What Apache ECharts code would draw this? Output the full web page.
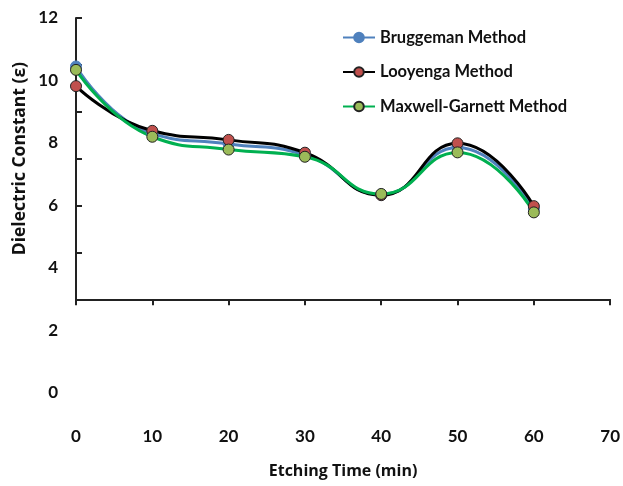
<!DOCTYPE html>
<html><head><meta charset="utf-8">
<script src="https://cdn.jsdelivr.net/npm/echarts@6/dist/echarts.min.js"></script>
<style>html,body{margin:0;padding:0;background:#fff}#c{width:623px;height:486px}</style>
</head><body><div id="c"></div>
<script>
var times = [0, 10, 20, 30, 40, 50, 60];
var bruggeman = [10.45, 8.30, 7.97, 7.62, 6.35, 7.86, 5.89];
var looyenga = [9.82, 8.39, 8.10, 7.69, 6.33, 7.99, 5.98];
var maxwell = [10.34, 8.20, 7.79, 7.56, 6.37, 7.70, 5.78];
var seriesNames = ['Bruggeman Method', 'Looyenga Method', 'Maxwell-Garnett Method'];
var xTicks = {min: 0, max: 70, interval: 10};
var yLabelTicks = {min: 0, max: 12, interval: 2};

var FONT = 'Lato';
function pairs(vals){ return times.map(function(t,i){ return [t, vals[i]]; }); }
var chart = echarts.init(document.getElementById('c'));
var lblStyle = {fontFamily: FONT, fontWeight: 'bold', fontSize: 17, color: '#111'};
chart.setOption({
  animation: false,
  legend: {
    orient: 'vertical', left: 337, top: 24, itemWidth: 32, itemHeight: 12, itemGap: 17.5,
    textStyle: {fontFamily: FONT, fontWeight: 'bold', fontSize: 16.5, color: '#111'},
    data: seriesNames
  },
  grid: [
    {left: 76, top: 18, width: 535, height: 281.25},
    {left: 76, top: 18, width: 535, height: 375}
  ],
  xAxis: [
    {gridIndex: 0, type: 'value', min: xTicks.min, max: xTicks.max, interval: xTicks.interval,
     axisLine: {show: true, lineStyle: {color: '#222', width: 2}},
     axisTick: {show: true, inside: false, length: 6, lineStyle: {color: '#222', width: 2}},
     axisLabel: Object.assign({margin: 129}, lblStyle),
     splitLine: {show: false},
     name: 'Etching Time (min)', nameLocation: 'middle', nameGap: 164,
     nameTextStyle: {fontFamily: 'Open Sans', fontWeight: 'bold', fontSize: 16, color: '#111'}},
    {gridIndex: 1, type: 'value', min: 0, max: 70, show: false}
  ],
  yAxis: [
    {gridIndex: 0, type: 'value', min: 3, max: 12, interval: 1.5,
     axisLine: {show: true, lineStyle: {color: '#222', width: 2}},
     axisTick: {show: true, inside: true, length: 6, lineStyle: {color: '#222', width: 2}},
     axisLabel: {show: false}, splitLine: {show: false},
     name: 'Dielectric Constant (ε)', nameLocation: 'middle', nameGap: 47, nameRotate: 90,
     nameTextStyle: {fontFamily: 'Open Sans', fontWeight: 'bold', fontSize: 17.5, color: '#111'}},
    {gridIndex: 1, type: 'value', min: yLabelTicks.min, max: yLabelTicks.max, interval: yLabelTicks.interval,
     axisLine: {show: false}, axisTick: {show: false}, splitLine: {show: false},
     axisLabel: Object.assign({margin: 18}, lblStyle)}
  ],
  series: [
    {name: seriesNames[0], type: 'line', data: pairs(bruggeman), smooth: 0.5,
     symbol: 'circle', symbolSize: 11,
     lineStyle: {color: '#4f81bd', width: 3},
     itemStyle: {color: '#4f81bd', borderColor: '#4f81bd', borderWidth: 1}},
    {name: seriesNames[1], type: 'line', data: pairs(looyenga), smooth: 0.5,
     symbol: 'circle', symbolSize: 11,
     lineStyle: {color: '#000', width: 3},
     itemStyle: {color: '#c0504d', borderColor: '#222', borderWidth: 1}},
    {name: seriesNames[2], type: 'line', data: pairs(maxwell), smooth: 0.5,
     symbol: 'circle', symbolSize: 11,
     lineStyle: {color: '#00b050', width: 3},
     itemStyle: {color: '#9bbb59', borderColor: '#222', borderWidth: 1}}
  ]
});
</script></body></html>
